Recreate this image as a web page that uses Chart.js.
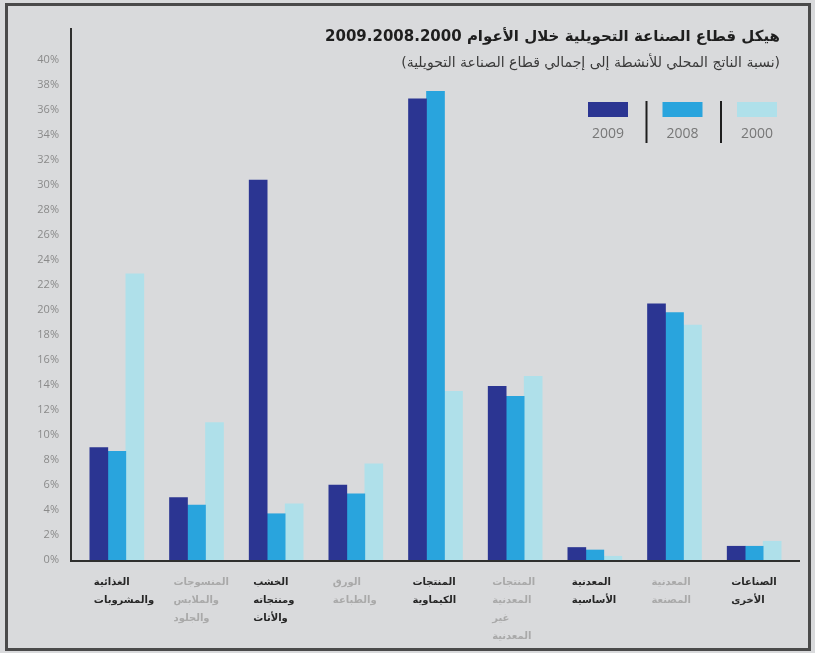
<!DOCTYPE html>
<html lang="ar">
<head>
<meta charset="utf-8">
<script src="https://cdn.jsdelivr.net/npm/chart.js@4"></script>
<style>
    html, body { margin: 0; padding: 0; }
    body { width: 815px; height: 653px; background: #d9dadc; position: relative; overflow: hidden; }
    #frame { position: absolute; left: 5px; top: 3px; width: 800px; height: 642px; border: 3px solid #4a4a4a; }
    #chart { position: absolute; left: 0; top: 0; }
    .title { position: absolute; right: 35px; direction: rtl; white-space: nowrap; font-family: "DejaVu Sans", sans-serif; }
    #t1 { top: 27px; font-size: 15px; font-weight: bold; color: #1e1e1e; }
    #t2 { top: 54px; font-size: 14px; color: #3a3a3a; }
</style>
</head>
<body>
<div id="frame"></div>
<canvas id="chart" width="815" height="653"></canvas>
<div class="title" id="t1">هيكل قطاع الصناعة التحويلية خلال الأعوام 2009.2008.2000</div>
<div class="title" id="t2">(نسبة الناتج المحلي للأنشطة إلى إجمالي قطاع الصناعة التحويلية)</div>
<script>
// categories (multi-line labels)
const categories = [
    ['الغذائية', 'والمشروبات'],
    ['المنسوجات', 'والملابس', 'والجلود'],
    ['الخشب', 'ومنتجاته', 'والأثاث'],
    ['الورق', 'والطباعة'],
    ['المنتجات', 'الكيماوية'],
    ['المنتجات', 'المعدنية', 'غير', 'المعدنية'],
    ['المعدنية', 'الأساسية'],
    ['المعدنية', 'المصنعة'],
    ['الصناعات', 'الأخرى']
];
const years = ['2009', '2008', '2000'];

// percent of manufacturing GDP
const values2009 = [9.0, 5.0, 30.4, 6.0, 36.9, 13.9, 1.0, 20.5, 1.1];
const values2008 = [8.7, 4.4, 3.7, 5.3, 37.5, 13.1, 0.8, 19.8, 1.1];
const values2000 = [22.9, 11.0, 4.5, 7.7, 13.5, 14.7, 0.3, 18.8, 1.5];

const yTicks = [0, 2, 4, 6, 8, 10, 12, 14, 16, 18, 20, 22, 24, 26, 28, 30, 32, 34, 36, 38, 40];

const colors = ['#2b3592', '#29a4dd', '#afe0ea'];
const labelColors = ['#262626', '#a9a9a9', '#262626', '#a9a9a9', '#262626', '#a9a9a9', '#262626', '#a9a9a9', '#262626'];

// axis lines (L shape) a bit left of the plot area
const axisLines = {
    id: 'axisLines',
    afterDraw(chart) {
        const ctx = chart.ctx;
        const area = chart.chartArea;
        const y0 = chart.scales.y.getPixelForValue(0);
        ctx.save();
        ctx.strokeStyle = '#2f2f2f';
        ctx.lineWidth = 2;
        ctx.beginPath();
        ctx.moveTo(71, area.top - 2);
        ctx.lineTo(71, y0 + 1);
        ctx.lineTo(area.right + 6, y0 + 1);
        ctx.stroke();
        ctx.restore();
    }
};

// legend: boxes with year underneath, separated by bars
const yearLegend = {
    id: 'yearLegend',
    afterDraw(chart) {
        const ctx = chart.ctx;
        ctx.save();
        chart.data.datasets.forEach((ds, i) => {
            const x = 588 + i * 74.5;
            ctx.fillStyle = ds.backgroundColor;
            ctx.fillRect(x, 102, 40, 15);
            ctx.fillStyle = '#777';
            ctx.font = '14px "Open Sans", sans-serif';
            ctx.textAlign = 'center';
            ctx.textBaseline = 'middle';
            ctx.fillText(ds.label, x + 20, 134);
            if (i > 0) {
                ctx.strokeStyle = '#1e1e1e';
                ctx.lineWidth = 2;
                ctx.beginPath();
                ctx.moveTo(x - 16, 101);
                ctx.lineTo(x - 16, 143);
                ctx.stroke();
            }
        });
        ctx.restore();
    }
};

const ctx = document.getElementById('chart').getContext('2d');
new Chart(ctx, {
    type: 'bar',
    data: {
        labels: categories,
        datasets: [
            { label: years[0], data: values2009, backgroundColor: colors[0] },
            { label: years[1], data: values2008, backgroundColor: colors[1] },
            { label: years[2], data: values2000, backgroundColor: colors[2] }
        ]
    },
    options: {
        responsive: false,
        animation: false,
        layout: { padding: { top: 30, right: 21, left: 0, bottom: 0 } },
        datasets: { bar: { barThickness: 18 } },
        plugins: {
            legend: { display: false },
            tooltip: { enabled: false }
        },
        scales: {
            x: {
                grid: { display: false, drawTicks: false },
                border: { display: false },
                ticks: {
                    align: 'start',
                    labelOffset: -23,
                    padding: 13,
                    color: labelColors,
                    font: { family: '"DejaVu Sans", sans-serif', size: 10, weight: 'bold', lineHeight: 1.8 },
                    maxRotation: 0,
                    autoSkip: false
                },
                afterFit(scale) { scale.height = 93; }
            },
            y: {
                min: 0,
                max: 42.4,
                grid: { display: false, drawTicks: false },
                border: { display: false },
                afterBuildTicks(scale) { scale.ticks = yTicks.map(v => ({ value: v })); },
                ticks: {
                    padding: 18,
                    color: '#8a8a8a',
                    font: { family: '"Open Sans", sans-serif', size: 11 },
                    callback: v => v + '%'
                },
                afterFit(scale) { scale.width = 77; }
            }
        }
    },
    plugins: [axisLines, yearLegend]
});
</script>
</body>
</html>
